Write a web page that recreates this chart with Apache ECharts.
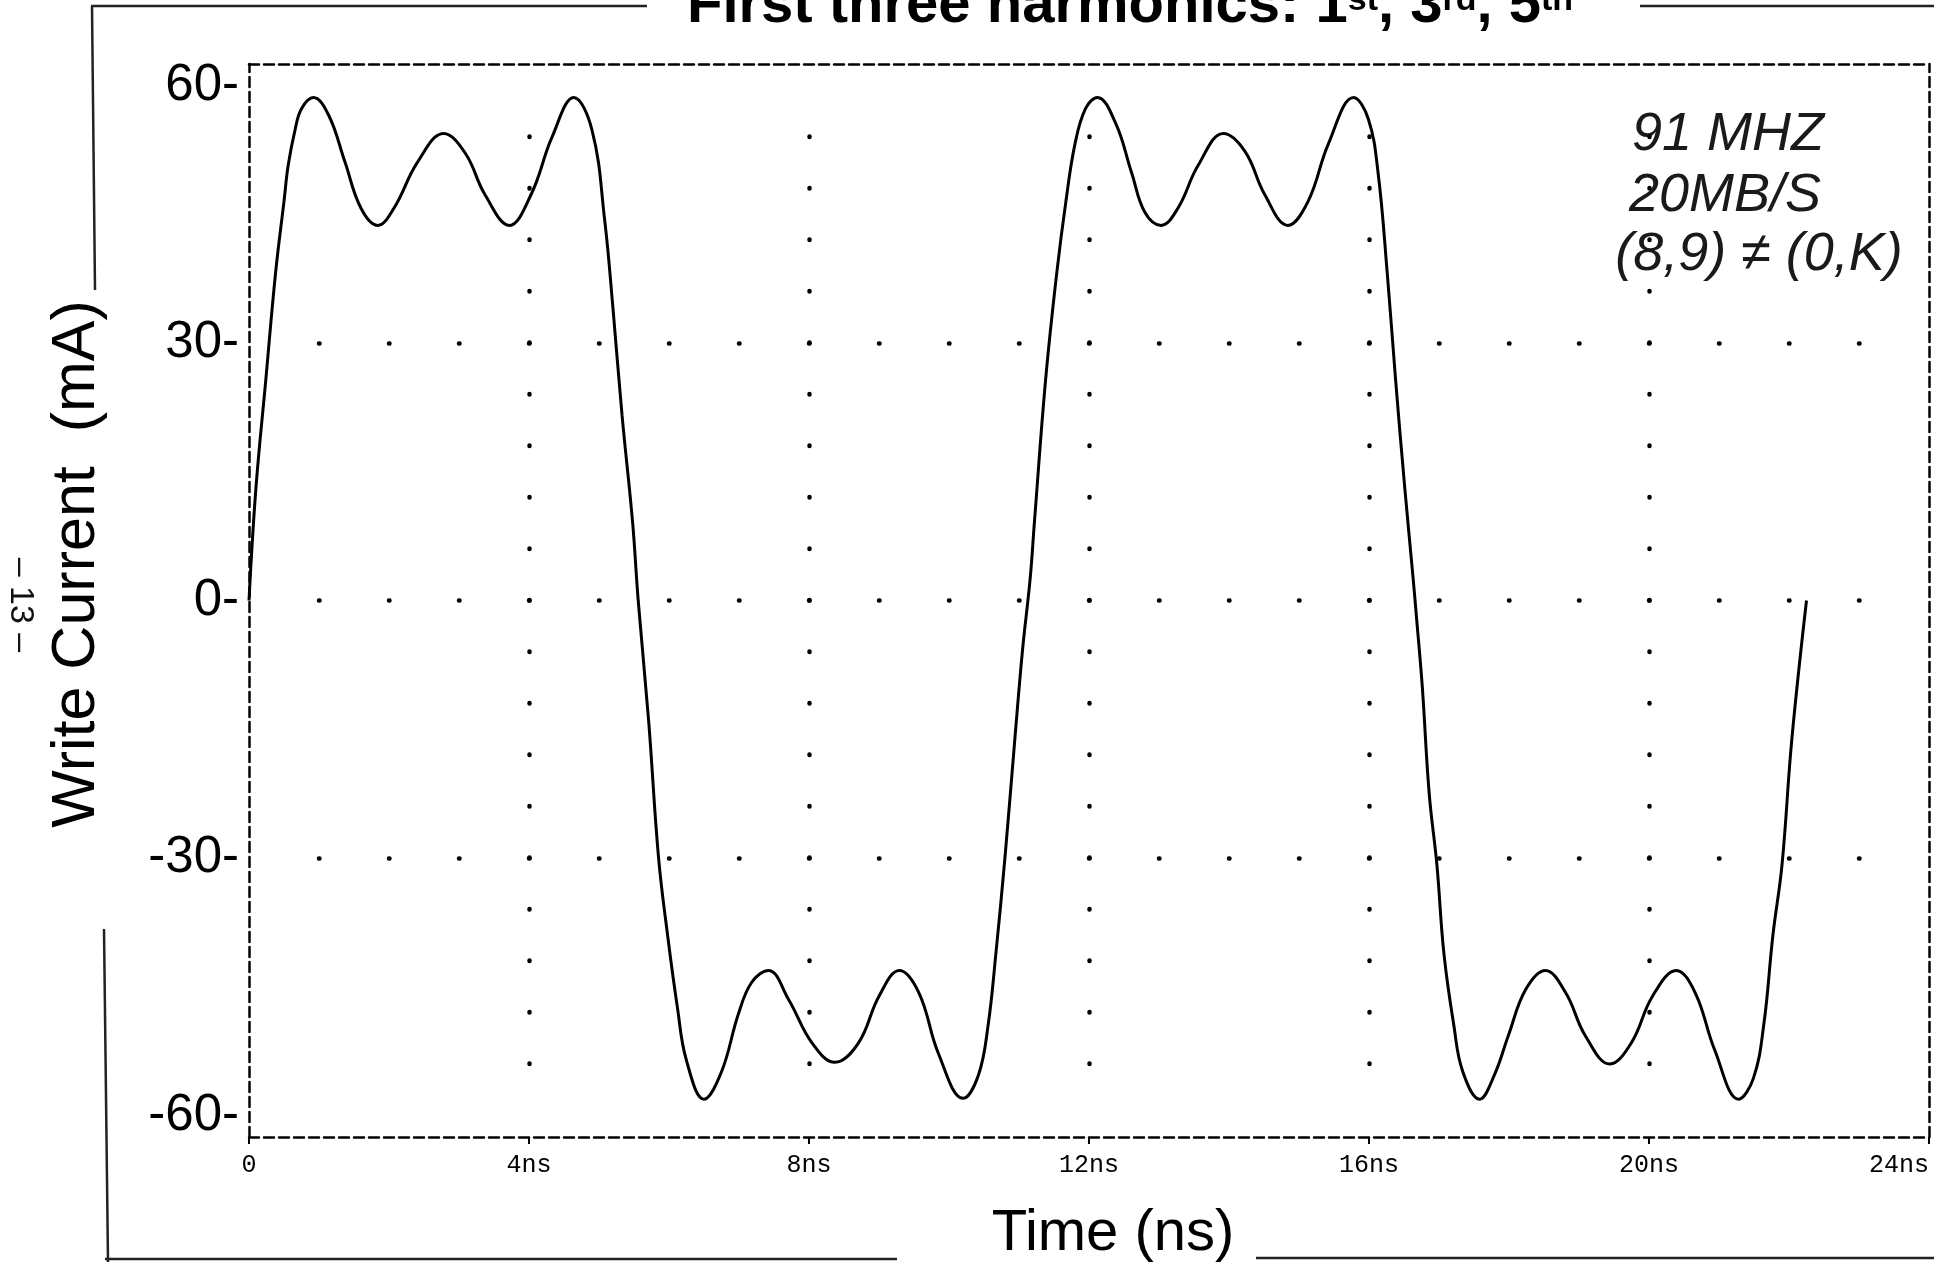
<!DOCTYPE html>
<html>
<head>
<meta charset="utf-8">
<script src="https://cdn.jsdelivr.net/npm/echarts@6/dist/echarts.min.js"></script>
<style>
html, body { margin: 0; padding: 0; background: #ffffff; }
#chart { width: 1934px; height: 1262px; }
</style>
</head>
<body>
<div id="chart"></div>
<script>
// ---- data ----
const timeNs = [
  0, 0.10, 0.24, 0.38, 0.50, 0.56, 0.66, 0.75, 0.92, 1.14,
  1.37, 1.60, 1.84, 2.07, 2.41, 2.78, 3.09, 3.37, 3.72, 4.03,
  4.33, 4.64, 4.90, 5.08, 5.20, 5.33, 5.48, 5.56,
  5.71, 5.85, 5.98, 6.12, 6.25, 6.50, 6.75, 6.99, 7.18, 7.42,
  7.71, 8.04, 8.37, 8.71, 9.00, 9.29, 9.57, 9.85, 10.20, 10.42,
  10.56, 10.67, 10.80, 10.94, 11.05, 11.16,
  11.22, 11.38, 11.54, 11.67, 11.80, 11.95, 12.12, 12.38, 12.61, 12.80,
  13.03, 13.27, 13.56, 13.92, 14.23, 14.51, 14.84, 15.13, 15.42, 15.78,
  15.99, 16.13, 16.26, 16.38, 16.51, 16.63, 16.68,
  16.76, 16.86, 16.97, 17.07, 17.21, 17.34, 17.58, 17.79, 17.99, 18.24,
  18.52, 18.81, 19.09, 19.44, 19.75, 20.05, 20.39, 20.66, 20.94, 21.28,
  21.49, 21.64, 21.77, 21.90, 22.04, 22.25
];
const currentMA = [
  0, 13.2, 25.7, 38.2, 46.5, 50.7, 54.9, 57.3, 58.6, 56.5,
  51.1, 45.7, 43.7, 45.7, 51.1, 54.4, 52.1, 47.3, 43.7, 47.3,
  54.0, 58.6, 54.8, 44.4, 34.0, 21.5, 9.1, 0,
  -14.1, -29.9, -39.0, -47.4, -53.6, -58.1, -54.9, -48.2, -44.5, -43.1,
  -46.5, -51.5, -53.8, -51.5, -46.1, -43.1, -45.7, -52.8, -58.0, -55.3,
  -49.4, -41.1, -29.9, -16.2, -5.8, 2.6,
  9.1, 25.7, 38.2, 46.5, 53.2, 57.3, 58.6, 55.6, 49.8, 45.2,
  43.7, 45.7, 50.7, 54.4, 52.3, 47.3, 43.7, 46.5, 53.2, 58.6,
  56.1, 49.8, 38.2, 25.7, 13.2, 2.6, -2.1,
  -9.9, -22.5, -30.8, -41.1, -49.4, -54.9, -58.1, -55.3, -50.7, -45.3,
  -43.1, -45.7, -50.7, -54.0, -51.5, -46.1, -43.1, -45.7, -52.4, -58.1,
  -55.7, -49.4, -39.0, -30.8, -16.2, 0
];
const xTickValues = [0, 4, 8, 12, 16, 20, 24];
const xTickUnit = 'ns';
const yTickValues = [-60, -30, 0, 30, 60];
const gridRowValues = [-30, 0, 30];          // dotted horizontal rows (mA)
const gridColValues = [4, 8, 12, 16, 20];    // dotted vertical columns (ns)
const gridColSpanMA = [-54, 54.4];           // extent of the dotted columns
const gridRowSpanNs = [1, 23.3];             // extent of the dotted rows
const colDotStepMA = 6;
const rowDotStepNs = 1;
const titleText = 'First three harmonics: 1{s|st}, 3{s|rd}, 5{s|th}';
const yAxisTitle = 'Write Current  (mA)';
const xAxisTitle = 'Time (ns)';
const notes = ['91 MHZ', '20MB/S', '(8,9) \u2260 (0,K)'];
const pageNumber = '\u2013 13 \u2013';

// ---- layout ----
const G = { left: 249, right: 5, top: 64, bottom: 125 };
const W = 1934, H = 1262;
const xMin = 0, xMax = 24, yMin = -62.5, yMax = 62.5;
const gridW = W - G.left - G.right, gridH = H - G.top - G.bottom;
const pxPerNs = gridW / (xMax - xMin);
const pxPerMA = gridH / (yMax - yMin);

const chart = echarts.init(document.getElementById('chart'), null, { renderer: 'canvas' });

const dashedFrame = { show: true, onZero: false, lineStyle: { color: '#000', width: 2.5, type: [10, 5] } };
const dotStyleRow = { color: '#000', width: 4.5, cap: 'round', type: [0.5, rowDotStepNs * pxPerNs - 0.5] };
const dotStyleCol = { color: '#000', width: 4.5, cap: 'round', type: [0.5, colDotStepMA * pxPerMA - 0.5] };

const markLines = [];
gridRowValues.forEach(v => {
  markLines.push([{ coord: [gridRowSpanNs[0], v], lineStyle: dotStyleRow }, { coord: [gridRowSpanNs[1], v] }]);
});
gridColValues.forEach(v => {
  markLines.push([{ coord: [v, gridColSpanMA[0]], lineStyle: dotStyleCol }, { coord: [v, gridColSpanMA[1]] }]);
});

const seriesData = timeNs.map((t, i) => [t, currentMA[i]]);

const option = {
  backgroundColor: '#ffffff',
  animation: false,
  title: {
    text: titleText,
    left: 687,
    top: -23,
    padding: 0,
    textStyle: {
      fontFamily: 'Liberation Sans',
      fontSize: 58,
      fontWeight: 'bold',
      color: '#000',
      lineHeight: 58,
      rich: {
        s: { fontFamily: 'Liberation Sans', fontSize: 34, fontWeight: 'bold', color: '#000',
             lineHeight: 34, verticalAlign: 'bottom', padding: [0, 0, 17, 0] }
      }
    }
  },
  grid: { left: G.left, right: G.right, top: G.top, bottom: G.bottom, containLabel: false },
  xAxis: [
    {
      type: 'value', min: xMin, max: xMax, interval: 4, position: 'bottom',
      axisLine: dashedFrame,
      axisTick: { show: true, length: 7, lineStyle: { color: '#000', width: 2 } },
      axisLabel: {
        show: true, margin: 16, color: '#000', fontFamily: 'Liberation Mono', fontSize: 25,
        alignMaxLabel: 'right',
        formatter: v => (v === 0 ? '0' : v + xTickUnit)
      },
      splitLine: { show: false }
    },
    {
      type: 'value', min: xMin, max: xMax, interval: 4, position: 'top',
      axisLine: dashedFrame, axisTick: { show: false }, axisLabel: { show: false }, splitLine: { show: false }
    }
  ],
  yAxis: [
    {
      type: 'value', min: yMin, max: yMax, position: 'left',
      axisLine: dashedFrame,
      axisTick: { show: false, customValues: yTickValues },
      axisLabel: {
        show: true, customValues: yTickValues, margin: 10, color: '#000',
        fontFamily: 'Liberation Sans', fontSize: 51,
        formatter: v => v + '-'
      },
      splitLine: { show: false }
    },
    {
      type: 'value', min: yMin, max: yMax, position: 'right',
      axisLine: dashedFrame, axisTick: { show: false }, axisLabel: { show: false }, splitLine: { show: false }
    }
  ],
  series: [
    {
      name: 'Write current',
      type: 'line',
      xAxisIndex: 0, yAxisIndex: 0,
      data: seriesData,
      showSymbol: false,
      smooth: 0.4,
      lineStyle: { color: '#000', width: 3 },
      silent: true,
      z: 3,
      markLine: {
        silent: true,
        symbol: ['none', 'none'],
        label: { show: false },
        emphasis: { disabled: true },
        z: 1,
        data: markLines
      }
    }
  ],
  graphic: [
    // outer page frame lines
    { type: 'line', shape: { x1: 91, y1: 6, x2: 647, y2: 6 }, style: { stroke: '#222', lineWidth: 2.5 } },
    { type: 'line', shape: { x1: 1640, y1: 6, x2: 1934, y2: 6 }, style: { stroke: '#222', lineWidth: 2.5 } },
    { type: 'line', shape: { x1: 92, y1: 6, x2: 95, y2: 290 }, style: { stroke: '#222', lineWidth: 2.5 } },
    { type: 'line', shape: { x1: 104, y1: 929, x2: 108, y2: 1262 }, style: { stroke: '#222', lineWidth: 2.5 } },
    { type: 'line', shape: { x1: 105, y1: 1259, x2: 897, y2: 1259 }, style: { stroke: '#222', lineWidth: 2.5 } },
    { type: 'line', shape: { x1: 1256, y1: 1258, x2: 1934, y2: 1258 }, style: { stroke: '#222', lineWidth: 2.5 } },
    // axis titles
    { type: 'text', x: 77, y: 564, rotation: Math.PI / 2,
      style: { text: yAxisTitle, font: '61px "Liberation Sans"', fill: '#000',
               align: 'center', verticalAlign: 'middle', textAlign: 'center', textVerticalAlign: 'middle' } },
    { type: 'text', x: 1113, y: 1234,
      style: { text: xAxisTitle, font: '58px "Liberation Sans"', fill: '#000',
               align: 'center', verticalAlign: 'middle', textAlign: 'center', textVerticalAlign: 'middle' } },
    // page number
    { type: 'text', x: 20, y: 605, rotation: -Math.PI / 2,
      style: { text: pageNumber, font: '34px "Liberation Sans"', fill: '#111',
               align: 'center', verticalAlign: 'middle', textAlign: 'center', textVerticalAlign: 'middle' } },
    // handwritten notes
    { type: 'text', x: 1728, y: 135,
      style: { text: notes[0], font: 'italic 54px "Liberation Sans"', fill: '#1a1a1a',
               align: 'center', verticalAlign: 'middle', textAlign: 'center', textVerticalAlign: 'middle' } },
    { type: 'text', x: 1725, y: 196,
      style: { text: notes[1], font: 'italic 54px "Liberation Sans"', fill: '#1a1a1a',
               align: 'center', verticalAlign: 'middle', textAlign: 'center', textVerticalAlign: 'middle' } },
    { type: 'text', x: 1759, y: 255,
      style: { text: notes[2], font: 'italic 54px "Liberation Sans"', fill: '#1a1a1a',
               align: 'center', verticalAlign: 'middle', textAlign: 'center', textVerticalAlign: 'middle' } }
  ]
};

chart.setOption(option);
</script>
</body>
</html>
